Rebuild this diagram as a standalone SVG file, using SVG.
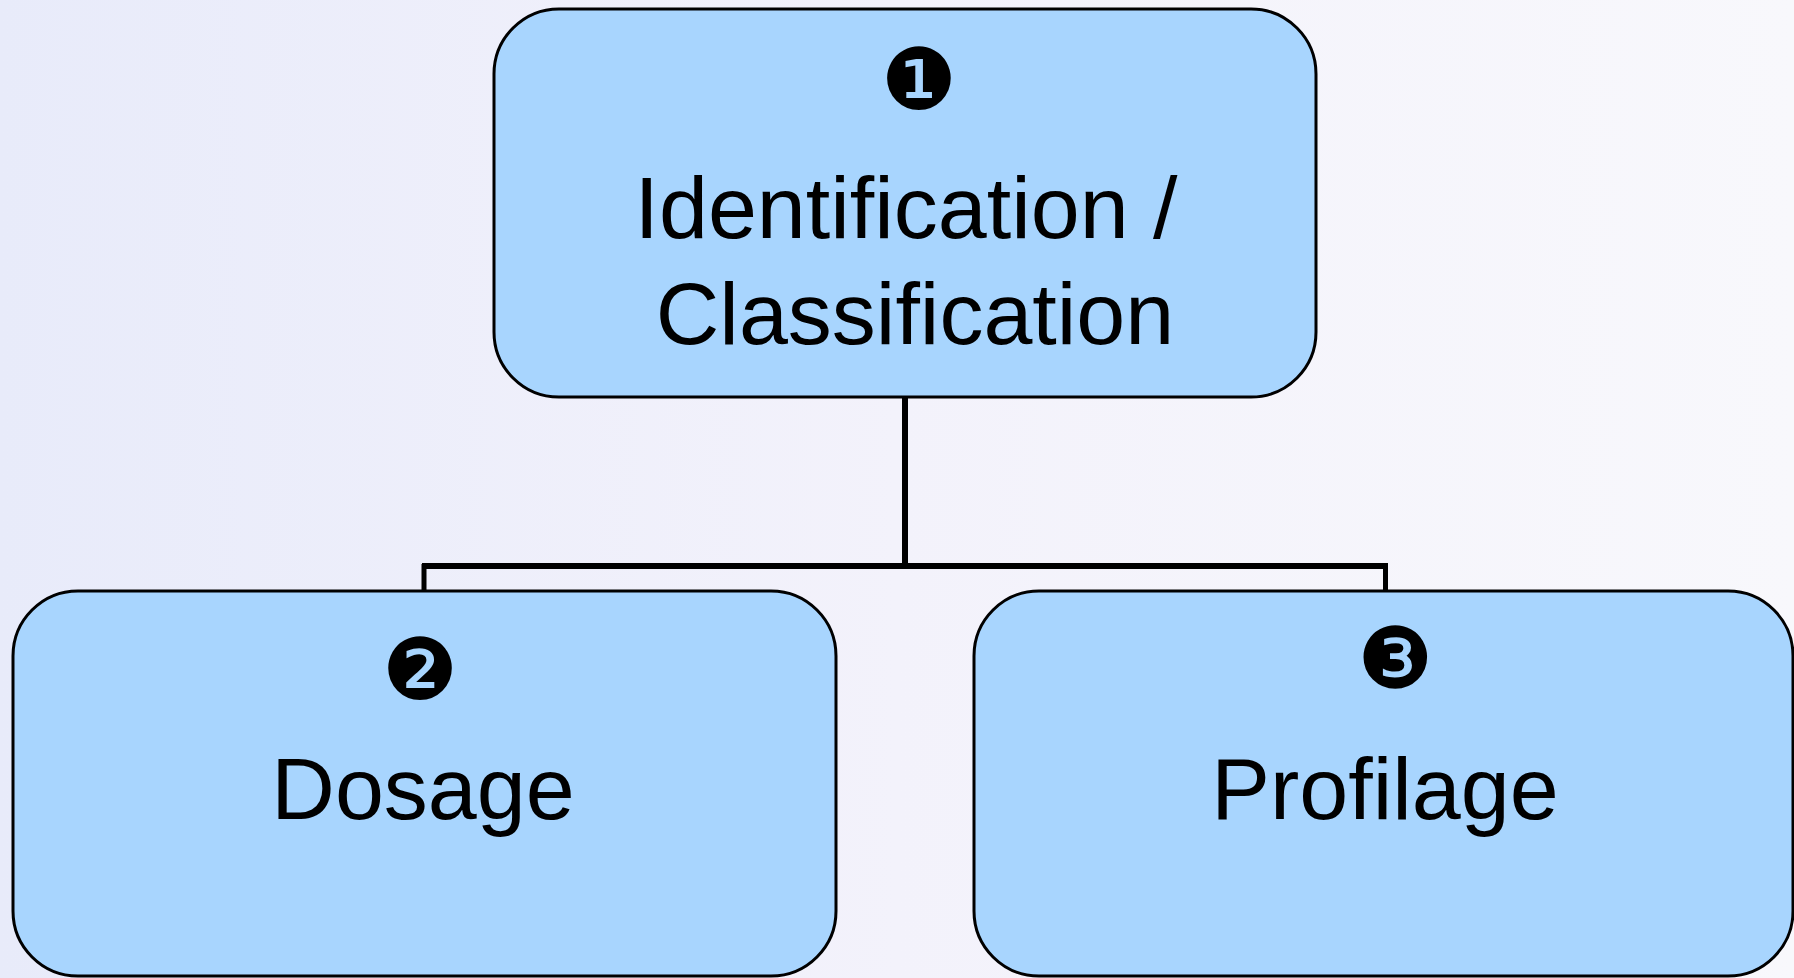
<svg xmlns="http://www.w3.org/2000/svg" width="1794" height="978" viewBox="0 0 1794 978">
<defs>
<linearGradient id="bg" x1="0" y1="0" x2="1" y2="0">
<stop offset="0" stop-color="#E8EBFA"/>
<stop offset="0.5" stop-color="#F3F2FB"/>
<stop offset="1" stop-color="#F8F8FC"/>
</linearGradient>
<style>
.box{fill:#A8D5FE;stroke:#000;stroke-width:3}
.lbl{font-family:"Liberation Sans",Arial,sans-serif;font-size:88px;fill:#000;text-anchor:middle}
.num{font-family:"DejaVu Sans",sans-serif;font-size:85px;fill:#000;text-anchor:middle}
.con{fill:none;stroke:#000;stroke-linejoin:miter}
</style>
</defs>
<rect width="1794" height="978" fill="url(#bg)"/>
<g id="connectors">
<path class="con" stroke-width="6" d="M905 397 V566"/>
<path class="con" stroke-width="6" d="M422 566 H1388"/>
<path class="con" stroke-width="5" d="M424 564 V591 M1385.5 564 V591"/>
</g>
<g id="node1">
<rect class="box" x="494" y="9" width="822" height="388" rx="65" ry="65"/>
<text class="num" x="919" y="109">❶</text>
<text class="lbl" x="906" y="238">Identification /</text>
<text class="lbl" x="915" y="344">Classification</text>
</g>
<g id="node2">
<rect class="box" x="13" y="591" width="823" height="385" rx="65" ry="65"/>
<text class="num" x="420" y="699">❷</text>
<text class="lbl" x="423" y="819">Dosage</text>
</g>
<g id="node3">
<rect class="box" x="974" y="591" width="819" height="385" rx="65" ry="65"/>
<text class="num" x="1395" y="688">❸</text>
<text class="lbl" x="1385" y="819">Profilage</text>
</g>
</svg>
